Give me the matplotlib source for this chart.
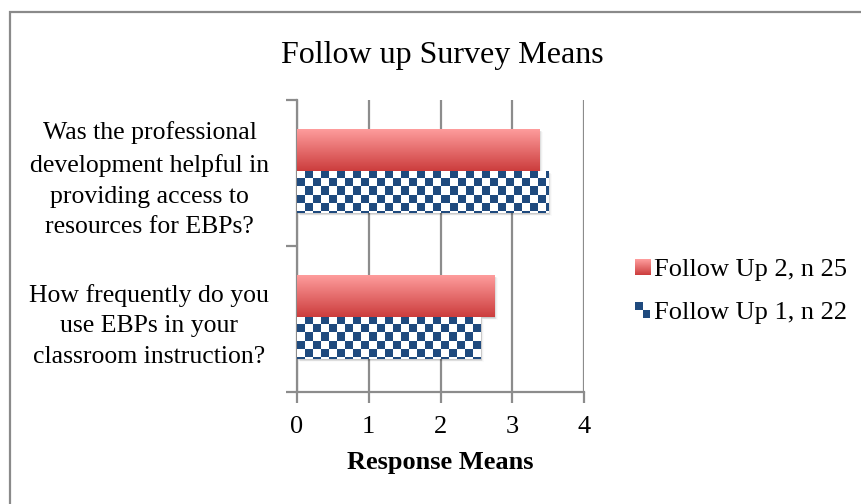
import numpy as np
import matplotlib.pyplot as plt
from matplotlib.patches import Rectangle
from matplotlib.legend_handler import HandlerBase
from matplotlib.transforms import Bbox, TransformedBbox
from matplotlib.image import BboxImage

plt.rcParams['font.family'] = ['Liberation Serif', 'DejaVu Serif']

# bottom-to-top order
questions = ["How frequently do you\nuse EBPs in your\nclassroom instruction?",
             "Was the professional\ndevelopment helpful in\nproviding access to\nresources for EBPs?"]
follow_up_2 = [2.75, 3.38]
follow_up_1 = [2.56, 3.50]
series_labels = ["Follow Up 2, n 25", "Follow Up 1, n 22"]

blue = "#1F4A7E"
grid_col = "#8C8C8C"

# vertical red gradient (light at top, dark at bottom)
grad = np.linspace(0, 1, 64)[:, None]
c_top = np.array([1.0, 0.62, 0.62])
c_bot = np.array([0.80, 0.24, 0.24])
red_grad = (c_top * (1 - grad[..., None]) + c_bot * grad[..., None]).repeat(2, axis=1)

fig = plt.figure(figsize=(8.61, 5.04), dpi=100)
fig.patches.append(Rectangle((10 / 861, -0.1), 2, 1.1 - 12 / 504, transform=fig.transFigure,
                             fill=False, edgecolor="#8A8A8A", linewidth=1.6))
ax = fig.add_axes([297 / 861, 1 - 392 / 504, 287 / 861, 292 / 504])

bar_h = 0.288
sq_x = 8 / 71.75   # checker square size in data units
sq_y = 8 / 146.0


def checker_bar(ax, y0, w, h):
    nx = int(np.ceil(w / sq_x)) + 1
    ny = int(np.ceil(h / sq_y)) + 1
    ii, jj = np.meshgrid(np.arange(nx), np.arange(ny))
    pat = ((ii + jj) % 2).astype(float)
    img = np.ones((ny, nx, 3))
    img[pat == 1] = np.array([0x1F, 0x4A, 0x7E]) / 255
    rect = Rectangle((0, y0), w, h, facecolor="none", edgecolor="none")
    ax.add_patch(rect)
    im = ax.imshow(img, extent=(0, nx * sq_x, y0 + h - ny * sq_y, y0 + h), origin="upper",
                   interpolation="nearest", aspect="auto", zorder=3)
    im.set_clip_path(rect)


def gradient_bar(ax, y0, w, h):
    rect = Rectangle((0, y0), w, h, facecolor="none", edgecolor="none")
    ax.add_patch(rect)
    im = ax.imshow(red_grad, extent=(0, w, y0, y0 + h), origin="upper",
                   interpolation="bilinear", aspect="auto", zorder=3)
    im.set_clip_path(rect)


def shadow(ax, y0, w, h):
    for k, a in zip(range(1, 5), [0.09, 0.07, 0.04, 0.02]):
        ax.add_patch(Rectangle((k * 0.012, y0 - k * 0.006), w, h, facecolor="black",
                               edgecolor="none", alpha=a, zorder=2))


for i in range(len(questions)):
    c = i + 0.5 + 0.015
    shadow(ax, c, follow_up_2[i], bar_h)
    shadow(ax, c - bar_h, follow_up_1[i], bar_h)
    gradient_bar(ax, c, follow_up_2[i], bar_h)
    checker_bar(ax, c - bar_h, follow_up_1[i], bar_h)

ax.set_xlim(0, 4)
ax.set_ylim(0, 2)
ax.set_xticks(range(5))
ax.set_xticklabels([str(v) for v in range(5)], fontsize=19)
ax.set_yticks([0, 1, 2])
ax.set_yticklabels([])
ax.set_yticks([0.5, 1.5], minor=True)
ax.set_yticklabels(questions, minor=True, fontsize=18.5, linespacing=1.52,
                   multialignment="center")
ax.tick_params(axis="y", which="minor", length=0, pad=20)
ax.tick_params(axis="both", which="major", length=8, width=1.6, color=grid_col)
ax.tick_params(axis="x", pad=9)
ax.grid(axis="x", color=grid_col, linewidth=1.6, zorder=0)
ax.set_axisbelow(True)
for s in ["top", "right"]:
    ax.spines[s].set_visible(False)
for s in ["left", "bottom"]:
    ax.spines[s].set_color(grid_col)
    ax.spines[s].set_linewidth(1.6)
ax.set_xlabel("Response Means", fontsize=19, fontweight="bold", labelpad=10)

fig.text(442 / 861, 1 - 55 / 504, "Follow up Survey Means", fontsize=23,
         ha="center", va="center")


class GradHandler(HandlerBase):
    def create_artists(self, legend, orig, xd, yd, w, h, fontsize, trans):
        s = 11
        x0, y0 = xd + w - s, yd + (h - s) / 2
        bb = TransformedBbox(Bbox.from_bounds(x0, y0, s, s), trans)
        im = BboxImage(bb, interpolation="bilinear")
        im.set_data(red_grad)
        return [im]


class CheckHandler(HandlerBase):
    def create_artists(self, legend, orig, xd, yd, w, h, fontsize, trans):
        s = 5.5
        x0, y0 = xd + w - 2 * s, yd + (h - 2 * s) / 2
        p1 = Rectangle((x0, y0 + s), s, s, facecolor=blue, edgecolor="none", transform=trans)
        p2 = Rectangle((x0 + s, y0), s, s, facecolor=blue, edgecolor="none", transform=trans)
        return [p1, p2]


h2 = Rectangle((0, 0), 1, 1)
h1 = Rectangle((0, 0), 1, 1)
fig.legend([h2, h1], series_labels, loc="center left",
           bbox_to_anchor=(632 / 861, 1 - 291 / 504), frameon=False, fontsize=19,
           handler_map={h2: GradHandler(), h1: CheckHandler()},
           handlelength=0.7, handletextpad=0.15, labelspacing=0.75,
           borderaxespad=0, borderpad=0)

fig.savefig("out.png", dpi=100)
